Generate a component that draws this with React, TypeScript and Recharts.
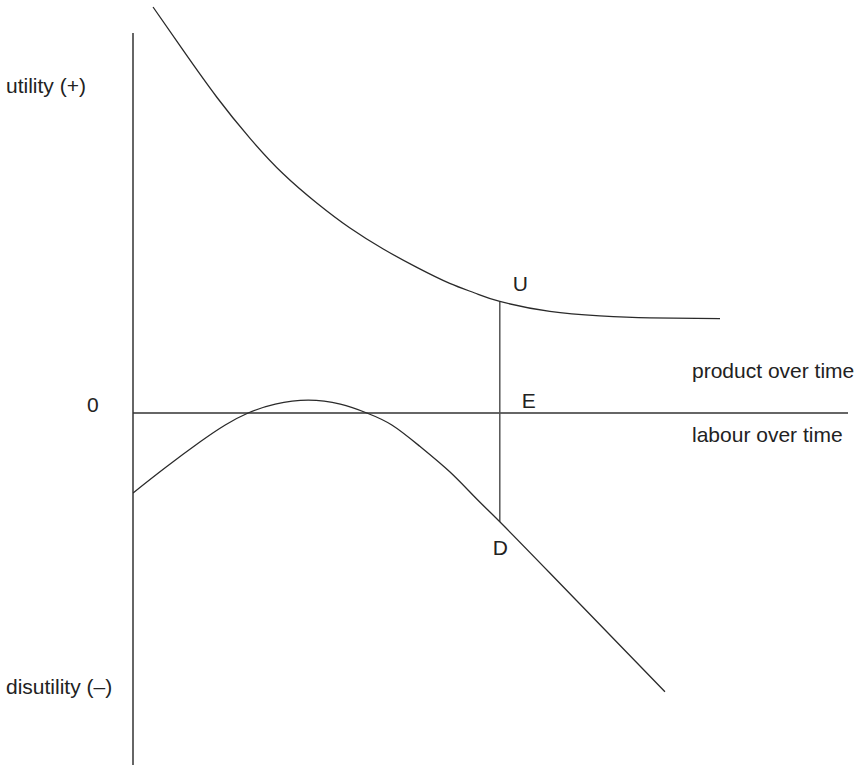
import React from 'react';
import { ComposedChart, Line, XAxis, YAxis, ReferenceLine, ReferenceDot } from 'recharts';

// labour over time (x) vs utility / disutility (y), in arbitrary units
const utilityX = [0.28, 0.7, 1.17, 1.64, 2.1, 2.57, 3.03, 3.5, 3.97, 4.43, 4.78, 5.13, 5.83, 6.53, 7.23, 8.21];
const utilityY = [10.15, 9.07, 7.9, 6.86, 5.98, 5.25, 4.63, 4.1, 3.64, 3.24, 3.0, 2.79, 2.54, 2.43, 2.38, 2.36];

const disutilityX = [0, 0.45, 0.94, 1.29, 1.61, 1.99, 2.45, 2.9, 3.27, 3.62, 4.01, 4.43, 4.78, 5.13, 5.83, 7.44];
const disutilityY = [-2.0, -1.37, -0.72, -0.3, 0, 0.22, 0.32, 0.22, 0, -0.3, -0.83, -1.47, -2.1, -2.72, -4.0, -6.97];

// equilibrium point E and the two curve values above/below it
const equilibrium = { x: 5.13, u: 2.79, d: -2.72 };

const axisTop = 9.5;
const axisBottom = -8.8;
const axisRight = 10;

const utilityData = utilityX.map((x, i) => ({ x, y: utilityY[i] }));
const disutilityData = disutilityX.map((x, i) => ({ x, y: disutilityY[i] }));

const FONT = '"Liberation Sans", Arial, sans-serif';
const INK = '#222';

const pointLabel = (text: string, dx: number, dy: number) => (props: any) => {
  const { viewBox } = props;
  const cx = viewBox.x + viewBox.width / 2;
  const cy = viewBox.y + viewBox.height / 2;
  return (
    <text x={cx + dx} y={cy + dy} fontFamily={FONT} fontSize={21} fill={INK}>
      {text}
    </text>
  );
};

const App: React.FC = () => {
  return (
    <div style={{ position: 'absolute', left: 0, top: 0, width: 863, height: 767, background: '#fff' }}>
      <ComposedChart width={863} height={767} margin={{ top: 5, right: 15, bottom: 2, left: 133 }}>
        <XAxis type="number" dataKey="x" domain={[0, 10]} hide allowDataOverflow />
        <YAxis type="number" dataKey="y" domain={[-8.8, 10.2]} hide allowDataOverflow />
        <ReferenceLine
          segment={[{ x: 0, y: axisTop }, { x: 0, y: axisBottom }]}
          stroke="#333"
          strokeWidth={1.5}
          ifOverflow="visible"
        />
        <ReferenceLine
          segment={[{ x: 0, y: 0 }, { x: axisRight, y: 0 }]}
          stroke="#333"
          strokeWidth={1.5}
          ifOverflow="visible"
        />
        <ReferenceLine
          segment={[{ x: equilibrium.x, y: equilibrium.u }, { x: equilibrium.x, y: equilibrium.d }]}
          stroke="#555"
          strokeWidth={1.5}
          ifOverflow="visible"
        />
        <Line
          data={utilityData}
          dataKey="y"
          type="natural"
          stroke="#2a2a2a"
          strokeWidth={1.3}
          dot={false}
          activeDot={false}
          isAnimationActive={false}
        />
        <Line
          data={disutilityData}
          dataKey="y"
          type="natural"
          stroke="#2a2a2a"
          strokeWidth={1.3}
          dot={false}
          activeDot={false}
          isAnimationActive={false}
        />
        <ReferenceDot
          x={equilibrium.x}
          y={equilibrium.u}
          r={1}
          fill="none"
          stroke="none"
          label={pointLabel('U', 13, -10)}
        />
        <ReferenceDot
          x={equilibrium.x}
          y={0}
          r={1}
          fill="none"
          stroke="none"
          label={pointLabel('E', 22, -5)}
        />
        <ReferenceDot
          x={equilibrium.x}
          y={equilibrium.d}
          r={1}
          fill="none"
          stroke="none"
          label={pointLabel('D', -7, 33)}
        />
      </ComposedChart>
      <svg
        width={863}
        height={767}
        style={{ position: 'absolute', left: 0, top: 0, pointerEvents: 'none' }}
      >
        <g fontFamily={FONT} fontSize={21} fill={INK}>
          <text x={6} y={93}>utility (+)</text>
          <text x={6} y={694}>disutility (–)</text>
          <text x={87} y={412}>0</text>
          <text x={692} y={378}>product over time</text>
          <text x={692} y={442}>labour over time</text>
        </g>
      </svg>
    </div>
  );
};

export default App;
